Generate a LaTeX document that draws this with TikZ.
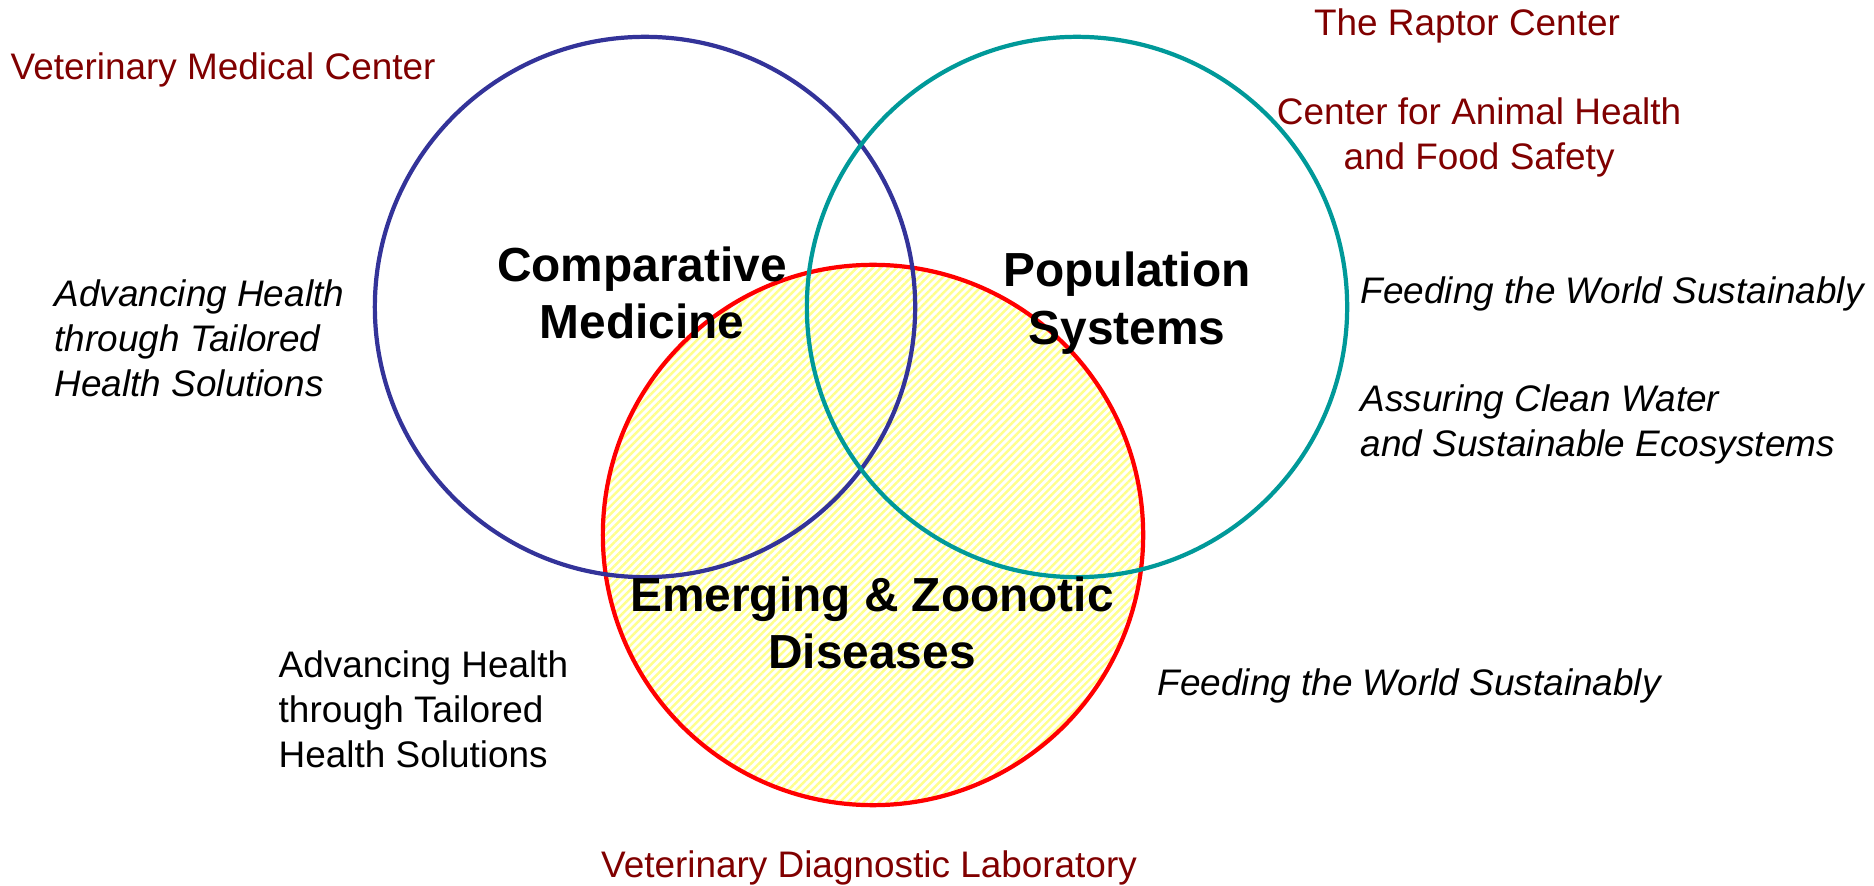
\documentclass[tikz,border=0pt]{standalone}
\usepackage{fontspec}
\setmainfont{Liberation Sans}
\usepackage{xcolor}
\usetikzlibrary{patterns.meta}

\definecolor{cmblue}{HTML}{333399}
\definecolor{psteal}{HTML}{009999}
\definecolor{ezred}{HTML}{FF0000}
\definecolor{unitred}{HTML}{800000}
\definecolor{hatchyellow}{HTML}{FFFF8C}

\tikzset{
  unit/.style={text=unitred, font=\fontsize{10.5}{12.8}\selectfont, inner sep=0pt, align=center},
  theme/.style={font=\fontsize{10.5}{12.8}\selectfont\itshape, inner sep=0pt, align=left, anchor=west},
  area/.style={font=\fontsize{13.6}{16.3}\selectfont\bfseries, inner sep=0pt, align=center},
  ring/.style={line width=1.2pt},
}

\begin{document}
\begin{tikzpicture}[x=0.01cm,y=-0.01cm]
\useasboundingbox (0,0) rectangle (1874,886);

% Centres
\coordinate (C) at (645,307);    % Comparative Medicine
\coordinate (P) at (1077,307);   % Population Systems
\coordinate (E) at (873,535);    % Emerging & Zoonotic Diseases

% Hatched circle
\fill[white] (E) circle[radius=2.7cm];
\fill[pattern={Lines[angle=45,distance=1.6pt,line width=0.7pt]}, pattern color=hatchyellow] (E) circle[radius=2.7cm];

% Circles
\draw[ring, ezred] (E) circle[radius=2.7cm];
\draw[ring, cmblue] (C) circle[radius=2.7cm];
\draw[ring, psteal] (P) circle[radius=2.7cm];

% Areas
\node[area] (cm) at (642,293) {Comparative\\Medicine};
\node[area] (ps) at (1127,303) {Population\\Systems};
\node[area] (ez) at (872,623) {Emerging \& Zoonotic\\Diseases};

% Units
\node[unit, anchor=west] (vmc) at (10,70) {Veterinary Medical Center};
\node[unit] (trc) at (1467,26) {The Raptor Center};
\node[unit] (cahfs) at (1479,137) {Center for Animal Health\\and Food Safety};
\node[unit] (vdl) at (869,868) {Veterinary Diagnostic Laboratory};

% Themes
\node[theme] (cmhealth) at (54,338) {Advancing Health\\through Tailored\\Health Solutions};
\node[theme] (psfeed) at (1360,294) {Feeding the World Sustainably};
\node[theme] (pswater) at (1360,424) {Assuring Clean Water\\and Sustainable Ecosystems};
\node[theme, font=\fontsize{10.5}{12.8}\selectfont] (ezhealth) at (278,709) {Advancing Health\\through Tailored\\Health Solutions};
\node[theme] (ezfeed) at (1157,686) {Feeding the World Sustainably};

\end{tikzpicture}
\end{document}
